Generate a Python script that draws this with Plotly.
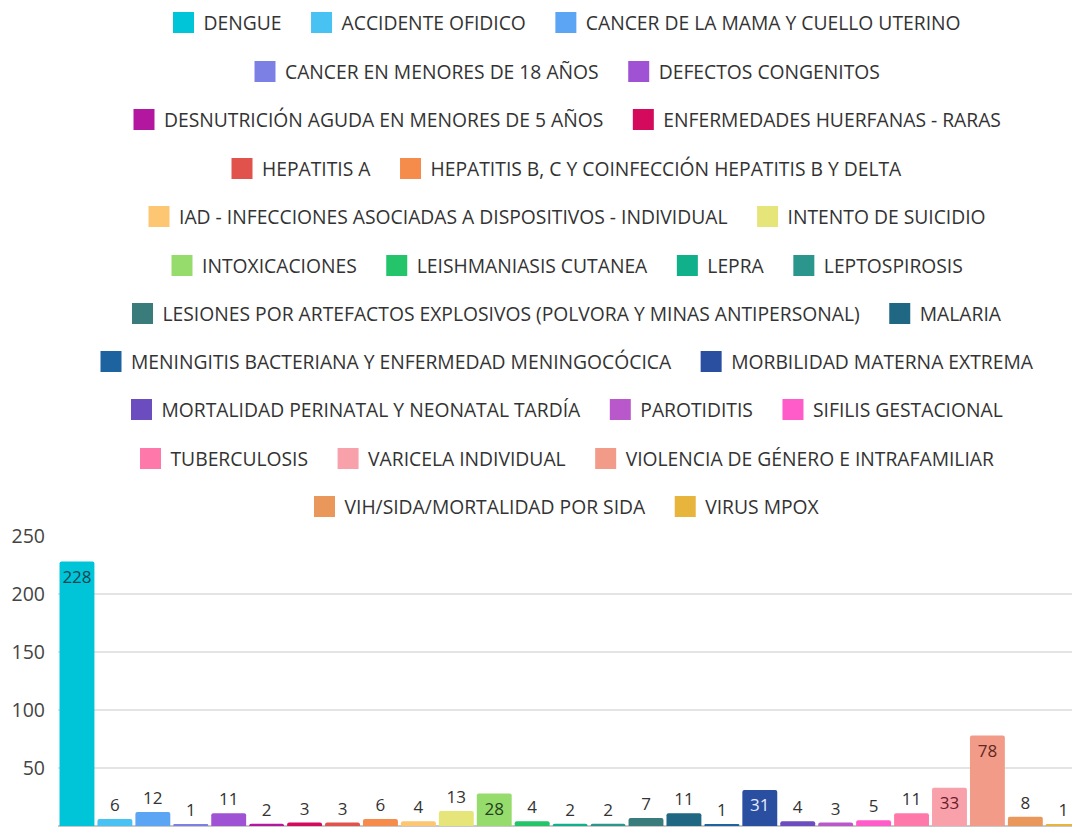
import plotly.graph_objects as go

# Eventos notificados por evento de interés en salud pública
eventos = [
    "DENGUE", "ACCIDENTE OFIDICO", "CANCER DE LA MAMA Y CUELLO UTERINO",
    "CANCER EN MENORES DE 18 AÑOS", "DEFECTOS CONGENITOS",
    "DESNUTRICIÓN AGUDA EN MENORES DE 5 AÑOS", "ENFERMEDADES HUERFANAS - RARAS",
    "HEPATITIS A", "HEPATITIS B, C Y COINFECCIÓN HEPATITIS B Y DELTA",
    "IAD - INFECCIONES ASOCIADAS A DISPOSITIVOS - INDIVIDUAL", "INTENTO DE SUICIDIO",
    "INTOXICACIONES", "LEISHMANIASIS CUTANEA", "LEPRA", "LEPTOSPIROSIS",
    "LESIONES POR ARTEFACTOS EXPLOSIVOS (POLVORA Y MINAS ANTIPERSONAL)", "MALARIA",
    "MENINGITIS BACTERIANA Y ENFERMEDAD MENINGOCÓCICA", "MORBILIDAD MATERNA EXTREMA",
    "MORTALIDAD PERINATAL Y NEONATAL TARDÍA", "PAROTIDITIS", "SIFILIS GESTACIONAL",
    "TUBERCULOSIS", "VARICELA INDIVIDUAL", "VIOLENCIA DE GÉNERO E INTRAFAMILIAR",
    "VIH/SIDA/MORTALIDAD POR SIDA", "VIRUS MPOX",
]
casos = [228, 6, 12, 1, 11, 2, 3, 3, 6, 4, 13, 28, 4, 2, 2, 7, 11, 1, 31, 4, 3, 5, 11, 33, 78, 8, 1]

colores = [
    "#00c4d8", "#48c1f3", "#5ba5f4", "#7c7fe4", "#a052d4", "#b3169f", "#d40a5c",
    "#e0524b", "#f58c4c", "#fcc672", "#e6e579", "#95dc6d", "#24c46b", "#10b08b",
    "#2b968b", "#3a7b7b", "#1f6782", "#1d63a0", "#2a4fa0", "#6b4dbf", "#b858ca",
    "#ff5bc9", "#ff78aa", "#f9a1aa", "#f39b89", "#e9975b", "#e7b43c",
]
# color del número cuando va dentro de la barra
color_texto_interno = {0: "#16454f", 11: "#25421c", 18: "#e6ecff", 23: "#6a1b2b", 24: "#5c2a22"}

# filas de la leyenda (cantidad de eventos por fila) y su altura en píxeles
filas_leyenda = [3, 2, 2, 2, 2, 4, 2, 2, 3, 3, 2]
fila_y_px = [23, 72, 120, 169, 217, 266, 314, 362, 410, 459, 507]

ALTO = 833
ANCHO = 1072
SEPARACION = "\u00a0" * 3  # espacio extra entre entradas de una misma fila

fig = go.Figure()

fila_de, ultimo_de_fila = [], []
for i, n in enumerate(filas_leyenda):
    fila_de += [i] * n
    ultimo_de_fila += [False] * (n - 1) + [True]

for i, (ev, v, c) in enumerate(zip(eventos, casos, colores)):
    fig.add_trace(go.Bar(
        x=[ev], y=[v], name=ev, legendgroup=ev, showlegend=False,
        marker=dict(color=c, line=dict(width=0), cornerradius=2),
        texttemplate="%{y}", textposition="auto", textangle=0, constraintext="none",
        textfont=dict(size=17),
        insidetextfont=dict(size=17, color=color_texto_interno.get(i, "#333333")),
        outsidetextfont=dict(size=17, color="#333333"),
        cliponaxis=False, hoverinfo="x+y",
    ))
    leg = "legend" if fila_de[i] == 0 else f"legend{fila_de[i] + 1}"
    etiqueta = ev if ultimo_de_fila[i] else ev + SEPARACION
    fig.add_trace(go.Scatter(
        x=[None], y=[None], mode="markers", name=etiqueta, legendgroup=ev,
        legend=leg, showlegend=True, hoverinfo="skip",
        marker=dict(symbol="square", size=16, color=c, line=dict(color=c, width=5)),
    ))

legend_base = dict(
    orientation="h", xref="paper", x=0.5, xanchor="center",
    yref="container", yanchor="middle",
    font=dict(family="Open Sans", size=19.3, color="#333333"),
    bgcolor="rgba(0,0,0,0)", itemwidth=30, itemsizing="trace",
)
legends = {}
for k, ypx in enumerate(fila_y_px):
    key = "legend" if k == 0 else f"legend{k + 1}"
    legends[key] = dict(legend_base, y=1 - ypx / ALTO)

fig.update_layout(
    width=ANCHO, height=ALTO,
    margin=dict(l=58, r=0, t=536, b=7, autoexpand=False),
    paper_bgcolor="white", plot_bgcolor="white",
    font=dict(family="Open Sans", color="#444444"),
    barmode="relative", bargap=0.08,
    showlegend=True,
    xaxis=dict(
        type="category", categoryorder="array", categoryarray=eventos,
        range=[-0.5, 26.23], showticklabels=False, showgrid=False,
        zeroline=False, showline=False, ticks="",
    ),
    yaxis=dict(
        range=[0, 250], dtick=50, showgrid=True, gridcolor="#e4e4e4", gridwidth=1.5,
        zeroline=True, zerolinecolor="#c8c8c8", zerolinewidth=1.5,
        tickfont=dict(family="Open Sans", size=19.5, color="#444444"),
        ticks="", ticklabelstandoff=12,
    ),
    **legends,
)

fig.write_html("out.html")
